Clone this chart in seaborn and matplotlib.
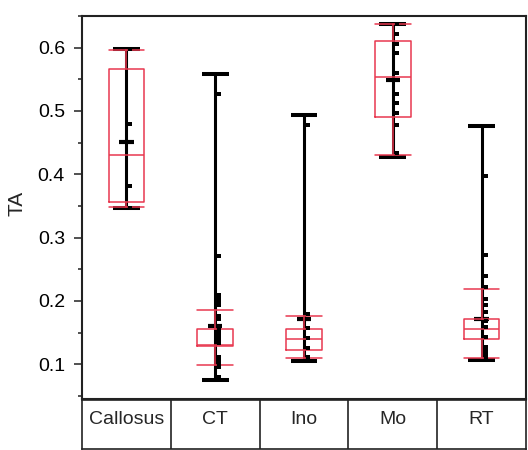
import matplotlib
matplotlib.use("Agg")
import matplotlib.pyplot as plt
import numpy as np
import pandas as pd
import seaborn as sns

# ---------------- data ----------------
categories = ["Callosus", "CT", "Ino", "Mo", "RT"]

q1 = [0.356, 0.128, 0.123, 0.4905, 0.139]
median = [0.430, 0.130, 0.139, 0.5535, 0.155]
q3 = [0.567, 0.156, 0.155, 0.610, 0.171]
whisker_low = [0.349, 0.098, 0.109, 0.430, 0.109]
whisker_high = [0.597, 0.186, 0.176, 0.637, 0.218]
mean_vals = [0.451, 0.160, 0.171, 0.549, 0.172]
min_vals = [0.346, 0.075, 0.105, 0.4275, 0.107]
max_vals = [0.598, 0.558, 0.493, 0.6375, 0.476]

points_callosus = [0.598, 0.479, 0.382, 0.347]
points_ct = [0.558, 0.526, 0.271, 0.209, 0.205, 0.201, 0.197, 0.193, 0.176,
             0.172, 0.157, 0.154, 0.150, 0.146, 0.142, 0.138, 0.134, 0.111,
             0.106, 0.101, 0.096, 0.080, 0.076]
points_ino = [0.494, 0.478, 0.179, 0.157, 0.142, 0.125, 0.111]
points_mo = [0.637, 0.622, 0.605, 0.592, 0.560, 0.526, 0.513, 0.496, 0.478, 0.433]
points_rt = [0.476, 0.398, 0.272, 0.239, 0.222, 0.203, 0.193, 0.182, 0.169,
             0.159, 0.143, 0.127, 0.122, 0.118, 0.114, 0.110]

y_ticks = [0.1, 0.2, 0.3, 0.4, 0.5, 0.6]
y_label = "TA"

# ---------------- style ----------------
sns.set_theme(style="white")
FONT = ["Liberation Sans", "DejaVu Sans"]
plt.rcParams["font.family"] = FONT

RED = "#E8384F"
DARK = "#222222"

fig = plt.figure(figsize=(5.28, 4.5), dpi=100)
W, H = 528, 450
ax = fig.add_axes([82 / W, (H - 399) / H, 444 / W, 383 / H])

pos = np.arange(len(categories))

# black range (min-max) with caps and mean bar
ax.vlines(pos, min_vals, max_vals, color="black", lw=2.2, zorder=2)
ax.hlines(min_vals, pos - 0.15, pos + 0.15, color="black", lw=2.9, zorder=2)
ax.hlines(max_vals, pos - 0.15, pos + 0.15, color="black", lw=2.9, zorder=2)
ax.hlines(mean_vals, pos - 0.08, pos + 0.08, color="black", lw=3.0, zorder=2)

# red box charts
stats = []
for i in range(len(categories)):
    stats.append(dict(q1=q1[i], med=median[i], q3=q3[i],
                      whislo=whisker_low[i], whishi=whisker_high[i],
                      mean=mean_vals[i], fliers=[], label=categories[i]))
lp = dict(color=RED, lw=1.1)
ax.bxp(stats, positions=pos, widths=0.4, capwidths=0.4, showfliers=False,
       showmeans=False, patch_artist=False,
       boxprops=lp, whiskerprops=lp, capprops=lp, medianprops=lp,
       zorder=3)

# data points
all_points = [points_callosus, points_ct, points_ino, points_mo, points_rt]
rows = []
for i, pts in enumerate(all_points):
    for v in pts:
        rows.append({"x": i + 0.045, "y": v})
df = pd.DataFrame(rows)
sns.scatterplot(data=df, x="x", y="y", ax=ax, marker="s", s=7,
                color="black", linewidth=0, zorder=4, legend=False)

# axes
ax.set_xlim(-0.5, 4.5)
ax.set_ylim(0.045, 0.648)
ax.set_xticks([])
ax.set_xlabel("")
ax.set_yticks(y_ticks)
ax.set_yticklabels([f"{t:.1f}" for t in y_ticks])
ax.set_yticks(np.arange(0.05, 0.66, 0.1), minor=True)
ax.tick_params(axis="y", which="major", direction="out", length=5.8,
               width=1.1, pad=6.5, labelsize=14, left=True, colors=DARK)
ax.tick_params(axis="y", which="minor", direction="out", length=2.9,
               width=1.1, left=True, colors=DARK)
for lab in ax.get_yticklabels():
    lab.set_color("black")
ax.set_ylabel(y_label, fontsize=15)
ax.yaxis.set_label_coords(-0.124, 0.51)
for s in ax.spines.values():
    s.set_visible(True)
    s.set_color(DARK)
    s.set_linewidth(1.5)

# category table below
tax = fig.add_axes([82 / W, (H - 449) / H, 444 / W, 49 / H])
tax.set_xlim(-0.5, 4.5)
tax.set_ylim(0, 1)
tax.set_xticks([])
tax.set_yticks([])
for s in tax.spines.values():
    s.set_visible(True)
    s.set_color(DARK)
    s.set_linewidth(1.2)
tax.vlines(pos[:-1] + 0.5, 0, 1, color=DARK, lw=1.2)
for i, c in enumerate(categories):
    tax.text(i, 0.6, c, ha="center", va="center", fontsize=14)
tax.set_facecolor("white")

fig.savefig("out.png", dpi=100)
